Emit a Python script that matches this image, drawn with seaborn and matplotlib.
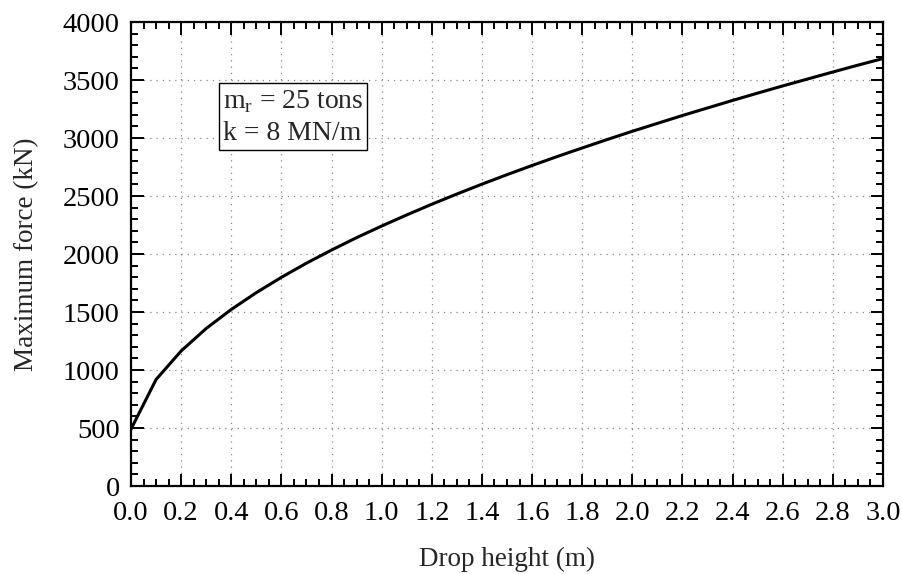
import numpy as np
import pandas as pd
import matplotlib
matplotlib.use("Agg")
import matplotlib.pyplot as plt
from matplotlib.ticker import MultipleLocator
import seaborn as sns

# Drop height (m) and resulting maximum force (kN)
drop_height = [0.0, 0.1, 0.2, 0.3, 0.4, 0.5, 0.6, 0.7, 0.8, 0.9, 1.0,
               1.1, 1.2, 1.3, 1.4, 1.5, 1.6, 1.7, 1.8, 1.9, 2.0,
               2.1, 2.2, 2.3, 2.4, 2.5, 2.6, 2.7, 2.8, 2.9, 3.0]
max_force = [490, 918, 1164, 1358, 1522, 1667, 1799, 1921, 2034, 2141, 2241,
             2337, 2429, 2517, 2602, 2684, 2763, 2840, 2914, 2987, 3058,
             3126, 3194, 3259, 3324, 3387, 3449, 3509, 3569, 3628, 3685]

x_ticks = [0.0, 0.2, 0.4, 0.6, 0.8, 1.0, 1.2, 1.4, 1.6, 1.8, 2.0,
           2.2, 2.4, 2.6, 2.8, 3.0]
y_ticks = [0, 500, 1000, 1500, 2000, 2500, 3000, 3500, 4000]

sns.set_style("ticks")
plt.rcParams["font.family"] = ["Liberation Serif", "DejaVu Serif"]
plt.rcParams["mathtext.fontset"] = "custom"
plt.rcParams["mathtext.rm"] = "Liberation Serif"

df = pd.DataFrame({"h": drop_height, "F": max_force})

W, H = 902, 574
fig = plt.figure(figsize=(W / 100, H / 100), dpi=100)
left, right, top, bottom = 131, 883, 22, 486
ax = fig.add_axes([left / W, 1 - bottom / H, (right - left) / W, (bottom - top) / H])

sns.lineplot(data=df, x="h", y="F", ax=ax, color="black", linewidth=2.2)

ax.set_xlim(0, 3.0)
ax.set_ylim(0, 4000)
ax.set_xticks(x_ticks)
ax.set_xticklabels([f"{v:.1f}" for v in x_ticks])
ax.set_yticks(y_ticks)
ax.set_yticklabels([str(v) for v in y_ticks])
ax.xaxis.set_minor_locator(MultipleLocator(0.05))
ax.yaxis.set_minor_locator(MultipleLocator(100))

ax.tick_params(which="both", direction="in", top=True, right=True,
               labelsize=20.5, colors="black")
ax.tick_params(axis="x", pad=10.5)
ax.tick_params(axis="y", pad=8)
ax.tick_params(which="major", length=9, width=1.4)
ax.tick_params(which="minor", length=5, width=1.4)

for s in ax.spines.values():
    s.set_linewidth(1.6)
    s.set_color("black")

ax.grid(True, which="major", linestyle=(0, (1, 4)), color="#888888", linewidth=0.9)

ax.set_xlabel("Drop height (m)", fontsize=19.5, labelpad=15.5)
ax.set_ylabel("Maximum force (kN)", fontsize=19.5, labelpad=17)

ax.text(0.1223, 0.858,
        "m$_{\\mathrm{r}}$ = 25 tons\nk = 8 MN/m",
        transform=ax.transAxes,
        fontsize=20, va="top", ha="left", linespacing=1.35,
        bbox=dict(boxstyle="square,pad=0.14", facecolor="white",
                  edgecolor="black", linewidth=1.0))

fig.savefig("out.png", dpi=100)
